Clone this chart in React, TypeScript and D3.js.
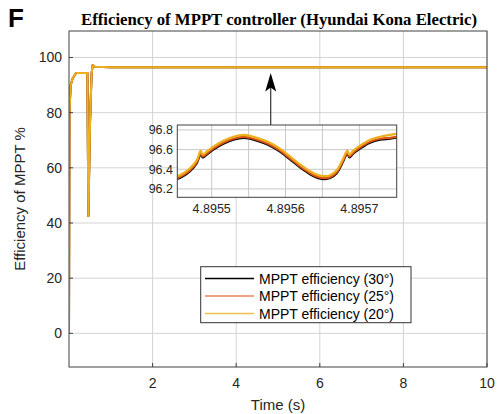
import React from "react";
import * as d3 from "d3";

// ---- Data ----
const mainTime = [0, 0.01, 0.04, 0.09, 0.17, 0.44, 0.455, 0.465, 0.5, 0.54, 0.565, 0.62, 1, 10];
const eff30 = [0, 80, 90, 92.5, 94.4, 94.4, 60, 42.5, 75, 94, 97.2, 96.6, 96.5, 96.5];
const eff25 = [0, 80, 90, 92.5, 94.4, 94.4, 60, 42.5, 75, 94, 97.2, 96.6, 96.5, 96.5];
const eff20 = [0, 80, 90, 92.5, 94.4, 94.4, 60, 42.5, 75, 94, 97.2, 96.6, 96.5, 96.5];

const insetTime = [
  4.8954534, 4.8954616, 4.8954706, 4.8954796, 4.8954832, 4.8954851, 4.8954878, 4.8954932,
  4.8955022, 4.8955158, 4.8955293, 4.8955429, 4.8955519, 4.8955654, 4.895579, 4.8955925,
  4.8956061, 4.8956196, 4.8956332, 4.8956445, 4.8956535, 4.8956603, 4.8956693, 4.8956775,
  4.8956811, 4.8956838, 4.8956865, 4.8956919, 4.8957009, 4.8957145, 4.895728, 4.8957416,
  4.8957506,
];
const inset30 = [
  96.3, 96.33, 96.38, 96.46, 96.53, 96.56, 96.52, 96.55, 96.6, 96.66, 96.7, 96.72, 96.71,
  96.68, 96.64, 96.58, 96.5, 96.42, 96.35, 96.31, 96.3, 96.31, 96.36, 96.47, 96.53, 96.56,
  96.52, 96.56, 96.61, 96.67, 96.7, 96.71, 96.72,
];
const inset25 = [
  96.31, 96.34, 96.39, 96.47, 96.54, 96.57, 96.53, 96.56, 96.61, 96.67, 96.71, 96.73, 96.72,
  96.69, 96.65, 96.59, 96.51, 96.43, 96.36, 96.32, 96.31, 96.32, 96.37, 96.48, 96.54, 96.57,
  96.53, 96.57, 96.62, 96.68, 96.71, 96.72, 96.73,
];
const inset20 = [
  96.33, 96.36, 96.41, 96.49, 96.56, 96.59, 96.55, 96.58, 96.63, 96.69, 96.73, 96.75, 96.74,
  96.71, 96.67, 96.61, 96.53, 96.45, 96.38, 96.34, 96.33, 96.34, 96.39, 96.5, 96.56, 96.59,
  96.55, 96.59, 96.64, 96.7, 96.73, 96.75, 96.76,
];

const xTicks = [2, 4, 6, 8, 10];
const yTicks = [0, 20, 40, 60, 80, 100];
const insetXTicks = [4.8955, 4.8956, 4.8957];
const insetXGrid = [4.89555, 4.8956, 4.89565, 4.8957, 4.8955];
const insetYTicks = [96.2, 96.4, 96.6, 96.8];

const seriesNames = ["MPPT efficiency (30°)", "MPPT efficiency (25°)", "MPPT efficiency (20°)"];
const colors = ["#000000", "#D95319", "#EDB120"];
const legendColors = ["#000000", "#E8855C", "#F0C04A"];

const title = "Efficiency of MPPT controller (Hyundai Kona Electric)";

export default function App() {
  const W = 497, H = 414;
  const L = 69, R = 487, T = 31, B = 367;
  const x = d3.scaleLinear().domain([0, 10]).range([L, R]);
  const y = d3.scaleLinear().domain([-12.2, 109.6]).range([B, T]);

  const iL = 177.3, iR = 396.7, iT = 125, iB = 197.3;
  const ix = d3.scaleLinear().domain([4.8954534, 4.8957506]).range([iL, iR]);
  const iy = d3.scaleLinear().domain([96.115, 96.85]).range([iB, iT]);

  const mainSeries = [eff30, eff25, eff20];
  const insetSeries = [inset30, inset25, inset20];

  const line = d3
    .line<number>()
    .x((_, i) => x(mainTime[i]))
    .y((d) => y(d));
  const iline = d3
    .line<number>()
    .x((_, i) => ix(insetTime[i]))
    .y((d) => iy(d))
    .curve(d3.curveCatmullRom.alpha(0.5));

  const font = "Arial, 'Liberation Sans', sans-serif";
  const arrowX = 270.7;

  return (
    <svg width={W} height={H} style={{ position: "absolute", left: 0, top: 0 }}>
      <rect x={0} y={0} width={W} height={H} fill="#fff" />
      <defs>
        <clipPath id="mainClip">
          <rect x={L} y={T} width={R - L} height={B - T} />
        </clipPath>
        <clipPath id="insetClip">
          <rect x={iL} y={iT} width={iR - iL} height={iB - iT} />
        </clipPath>
      </defs>
      {/* F label */}
      <text x={8} y={27} fontFamily={font} fontWeight="bold" fontSize={26}>F</text>
      {/* title */}
      <text
        x={(L + R) / 2 + 1}
        y={25}
        textAnchor="middle"
        fontFamily="'Times New Roman', 'Liberation Serif', serif"
        fontWeight="bold"
        fontSize={17}
        textLength={396}
        lengthAdjust="spacingAndGlyphs"
      >
        {title}
      </text>

      {/* grid */}
      {xTicks.map((t) => (
        <line key={"gx" + t} x1={x(t)} x2={x(t)} y1={T} y2={B} stroke="#d4d4d4" strokeWidth={1} />
      ))}
      {yTicks.map((t) => (
        <line key={"gy" + t} x1={L} x2={R} y1={y(t)} y2={y(t)} stroke="#d4d4d4" strokeWidth={1} />
      ))}

      {/* main lines */}
      <g clipPath="url(#mainClip)">
        {mainSeries.map((s, k) => (
          <path key={k} d={line(s) || ""} fill="none" stroke={colors[k]} strokeWidth={2} strokeLinejoin="round" />
        ))}
      </g>

      {/* box */}
      <rect x={L} y={T} width={R - L} height={B - T} fill="none" stroke="#404040" strokeWidth={1} />
      {xTicks.map((t) => (
        <line key={"tx" + t} x1={x(t)} x2={x(t)} y1={B} y2={B - 4} stroke="#404040" />
      ))}
      {yTicks.map((t) => (
        <line key={"ty" + t} x1={L} x2={L + 4} y1={y(t)} y2={y(t)} stroke="#404040" />
      ))}

      {/* tick labels */}
      {xTicks.map((t) => (
        <text key={"lx" + t} x={x(t)} y={388} textAnchor="middle" fontFamily={font} fontSize={14} fill="#262626">
          {t}
        </text>
      ))}
      {yTicks.map((t) => (
        <text key={"ly" + t} x={62} y={y(t) + 5} textAnchor="end" fontFamily={font} fontSize={14} fill="#262626">
          {t}
        </text>
      ))}
      <text x={278} y={410} textAnchor="middle" fontFamily={font} fontSize={15} fill="#262626">
        Time (s)
      </text>
      <text
        transform={`translate(25, ${(T + B) / 2}) rotate(-90)`}
        textAnchor="middle"
        fontFamily={font}
        fontSize={15}
        fill="#262626"
      >
        Efficiency of MPPT %
      </text>

      {/* arrow */}
      <line x1={arrowX} x2={arrowX} y1={iT} y2={86} stroke="#333" strokeWidth={1.2} />
      <path
        d={`M${arrowX},${73} L${arrowX + 5.5},${91.5} L${arrowX},${87.5} L${arrowX - 5.5},${91.5} Z`}
        fill="#000"
      />

      {/* inset */}
      <rect x={iL} y={iT} width={iR - iL} height={iB - iT} fill="#fff" />
      {insetXGrid.map((t) => (
        <line key={"igx" + t} x1={ix(t)} x2={ix(t)} y1={iT} y2={iB} stroke="#c8c8c8" strokeWidth={1} />
      ))}
      {insetYTicks.map((t) => (
        <line key={"igy" + t} x1={iL} x2={iR} y1={iy(t)} y2={iy(t)} stroke="#c8c8c8" strokeWidth={1} />
      ))}
      <g clipPath="url(#insetClip)">
        {insetSeries.map((s, k) => (
          <path key={k} d={iline(s) || ""} fill="none" stroke={colors[k]} strokeWidth={2.2} strokeLinejoin="round" />
        ))}
      </g>
      <rect x={iL} y={iT} width={iR - iL} height={iB - iT} fill="none" stroke="#404040" strokeWidth={1} />
      {insetXTicks.map((t) => (
        <text key={"ilx" + t} x={ix(t)} y={213} textAnchor="middle" fontFamily={font} fontSize={12.5} fill="#262626">
          {t.toFixed(4)}
        </text>
      ))}
      {insetYTicks.map((t) => (
        <text key={"ily" + t} x={173} y={iy(t) + 4.5} textAnchor="end" fontFamily={font} fontSize={12.5} fill="#262626">
          {t.toFixed(1)}
        </text>
      ))}

      {/* legend */}
      <rect x={200.7} y={266.7} width={210.3} height={56} fill="#fff" stroke="#333" strokeWidth={1} />
      {seriesNames.map((n, k) => {
        const cy = 278.5 + k * 17.5;
        return (
          <g key={n}>
            <line x1={205} x2={254} y1={cy} y2={cy} stroke={legendColors[k]} strokeWidth={1.3} />
            <text x={259} y={cy + 5} fontFamily={font} fontSize={14} fill="#000">
              {n}
            </text>
          </g>
        );
      })}
    </svg>
  );
}
